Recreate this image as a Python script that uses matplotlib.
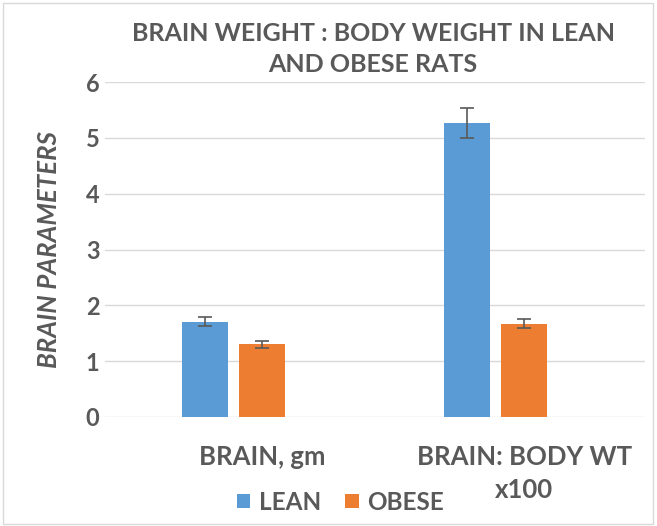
import matplotlib.pyplot as plt
from matplotlib.patches import Rectangle
import numpy as np

categories = ["BRAIN, gm", "BRAIN: BODY WT\nx100"]
lean = [1.71, 5.26]
lean_err = [0.08, 0.27]
obese = [1.30, 1.67]
obese_err = [0.06, 0.08]
yticks = [0, 1, 2, 3, 4, 5, 6]

plt.rcParams['font.family'] = ['Lato', 'DejaVu Sans']
grey = '#595959'

fig = plt.figure(figsize=(6.57, 5.26), dpi=100)
ax = fig.add_axes([105 / 657, 1 - 417 / 526, 540 / 657, 335 / 526])

x = np.arange(len(categories))
w = 0.176
off = 0.218
ax.bar(x - off, lean, w, color='#5B9BD5', label='LEAN', zorder=3)
ax.bar(x, obese, w, color='#ED7D31', label='OBESE', zorder=3)
ekw = dict(fmt='none', ecolor='#595959', elinewidth=1.2, capsize=5, capthick=1.2, zorder=4)
ax.errorbar(x - off, lean, yerr=lean_err, **ekw)
ax.errorbar(x, obese, yerr=obese_err, **ekw)

ax.set_xlim(-0.6, 1.46)
ax.set_ylim(0, 6)
ax.set_yticks(yticks)
ax.set_yticklabels([str(t) for t in yticks], fontsize=17, fontweight='bold', color=grey)
ax.set_xticks(x)
ax.set_xticklabels(categories, fontsize=18.5, fontweight='bold', color=grey, linespacing=1.45)
ax.tick_params(axis='y', length=0, pad=4)
ax.tick_params(axis='x', length=0, pad=20)
ax.grid(axis='y', color='#d9d9d9', linewidth=1, zorder=0)
for s in ax.spines.values():
    s.set_visible(False)

ax.set_ylabel("BRAIN PARAMETERS", fontsize=18.5, fontweight='bold', fontstyle='italic',
              color=grey, labelpad=18)

fig.text(0.568, 1 - 49 / 526, "BRAIN WEIGHT : BODY WEIGHT IN LEAN\nAND OBESE RATS",
         ha='center', va='center', fontsize=18, fontweight='bold', color=grey, linespacing=1.4)

fig.legend(loc='center', bbox_to_anchor=(0.518, 1 - 502 / 526), ncol=2, frameon=False,
           prop={'size': 17.5, 'weight': 'bold'}, labelcolor=grey, handlelength=0.55,
           handleheight=0.55, handletextpad=0.35, columnspacing=1.0)

fig.patches.append(Rectangle((3 / 657, 2 / 526), 650 / 657, 521 / 526, transform=fig.transFigure,
                             fill=False, edgecolor='#d9d9d9', linewidth=1))

fig.savefig('out.png', dpi=100)
